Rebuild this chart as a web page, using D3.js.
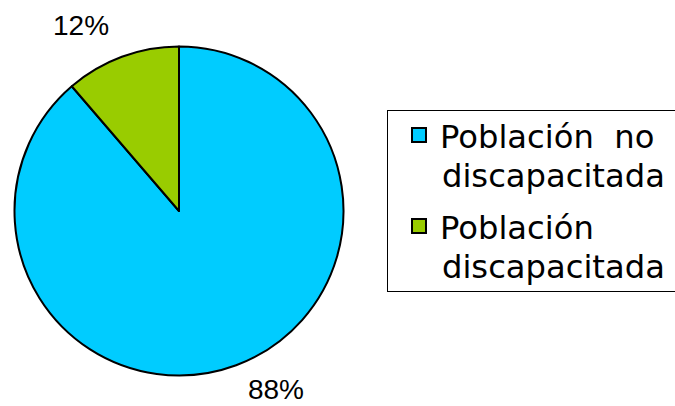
<!DOCTYPE html>
<html><head><meta charset="utf-8">
<script src="https://cdn.jsdelivr.net/npm/d3@7"></script>
<style>body{margin:0;background:#fff}svg{display:block}</style>
</head><body>
<svg id="c" width="675" height="406"></svg>
<script>
const categories = ["Población no discapacitada", "Población discapacitada"];
const legendLines = [["Población  no", "discapacitada"], ["Población", "discapacitada"]];
const values = [88.7, 11.3];
const labels = ["88%", "12%"];
const colors = ["#00CCFF", "#99CC00"];

const svg = d3.select("#c");
const cx = 179, cy = 211, r = 164.5;
const pie = d3.pie().sort(null).value(d => d);
const arcs = pie(values);
const arc = d3.arc().innerRadius(0).outerRadius(r);
const g = svg.append("g").attr("transform", `translate(${cx},${cy})`);
g.selectAll("path").data(arcs).enter().append("path")
  .attr("d", arc).attr("fill", (d, i) => colors[i])
  .attr("stroke", "#000").attr("stroke-width", 2).attr("stroke-linejoin", "round");

// labels outside
const labelPos = [[276 - cx, 399 - cy], [81 - cx, 35 - cy]];
g.selectAll("text.lbl").data(arcs).enter().append("text")
  .attr("class", "lbl")
  .attr("x", (d, i) => labelPos[i][0]).attr("y", (d, i) => labelPos[i][1])
  .attr("text-anchor", "middle")
  .attr("font-family", "Liberation Sans, Arial, sans-serif")
  .attr("font-size", 28).attr("fill", "#000")
  .text((d, i) => labels[i]);

// legend
svg.append("rect").attr("x", 387.5).attr("y", 110.5).attr("width", 300).attr("height", 181)
  .attr("fill", "#fff").attr("stroke", "#000").attr("stroke-width", 1);
const lg = svg.append("g");
const itemY = [128, 219];
categories.forEach((c, i) => {
  lg.append("rect").attr("x", 412).attr("y", itemY[i]).attr("width", 14).attr("height", 14)
    .attr("fill", colors[i]).attr("stroke", "#000").attr("stroke-width", 2);
  legendLines[i].forEach((t, j) => {
    lg.append("text").attr("class", "leg")
      .attr("x", j === 0 ? 440 : 442).attr("y", itemY[i] + 20 + j * 38.5)
      .attr("font-family", "DejaVu Sans, sans-serif").attr("font-size", 28)
      .attr("fill", "#000").style("white-space", "pre").attr("xml:space", "preserve").text(t);
  });
});
// fit font size so "discapacitada" spans ~223px
const probe = lg.selectAll("text.leg").filter(function(){ return this.textContent === "discapacitada"; }).node();
const w = probe.getComputedTextLength();
const fs = 28 * 223 / w;
lg.selectAll("text.leg").attr("font-size", fs);
</script>
</body></html>
